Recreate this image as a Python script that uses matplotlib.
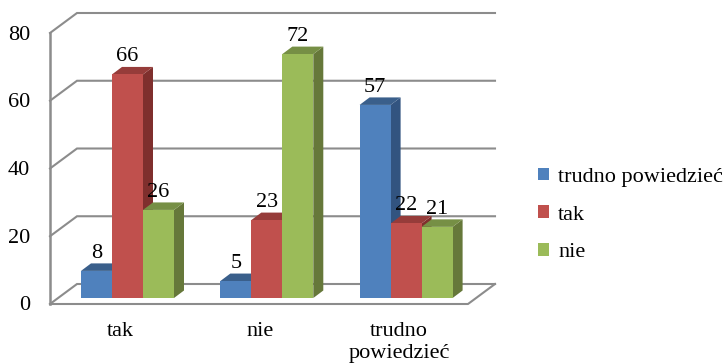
import matplotlib
matplotlib.use("Agg")
import matplotlib.pyplot as plt
from matplotlib.patches import Patch, Polygon

plt.rcParams['font.family'] = ['Liberation Serif', 'DejaVu Serif']

categories = ['tak', 'nie', 'trudno\npowiedzieć']
series = ['trudno powiedzieć', 'tak', 'nie']
trudno = [8, 5, 57]
tak = [66, 23, 22]
nie = [26, 72, 21]
ticks = [0, 20, 40, 60, 80]

front = ['#4F81BD', '#C0504D', '#9BBB59']
side = ['#325480', '#7F2F2D', '#66783A']
top = ['#3A5F8B', '#963C3A', '#768F45']
grid = '#8C8C8C'

# skala: 139.3 px na kategorie, 3.3875 px na jednostke
px_x = 139.3
px_y = 3.3875
def dx(p):
    return p / px_x
def dy(p):
    return p / px_y

fig = plt.figure(figsize=(7.26, 3.64), dpi=100)
ax = fig.add_axes([0, 0, 1, 1])
ax.set_xlim(dx(-127.5), dx(726 - 127.5))
ax.set_ylim(dy(-(364 - 304)), dy(304))
ax.axis('off')

x_left = dx(50 - 127.5)
x_right = dx(468 - 127.5)
wall_x = dx(27)
wall_y = dy(20)

# sciany i siatka
for t in ticks:
    ax.plot([x_left, x_left + wall_x, x_right + wall_x], [t, t + wall_y, t + wall_y],
            color=grid, lw=1.5, zorder=1, solid_joinstyle='miter')
    ax.text(x_left - dx(20), t - dy(2), str(t), ha='right', va='center', fontsize=16, color='black')
ax.plot([x_left, x_left], [0, 80], color=grid, lw=1.8, zorder=1)
ax.plot([x_left, x_right, x_right + wall_x], [0, 0, wall_y], color=grid, lw=1.5, zorder=1)

# slupki
bar_w = dx(31)
depth_x = dx(10)
depth_y = dy(7.5)
base = dy(6)
z = 2
for i, cat in enumerate(categories):
    for j, values in enumerate([trudno, tak, nie]):
        v = values[i]
        x0 = i + (j - 1.5) * bar_w
        x1 = x0 + bar_w
        y0 = base
        y1 = base + v
        ax.add_patch(Polygon([(x1, y0), (x1 + depth_x, y0 + depth_y), (x1 + depth_x, y1 + depth_y), (x1, y1)],
                             color=side[j], lw=0, zorder=z))
        ax.add_patch(Polygon([(x0, y1), (x1, y1), (x1 + depth_x, y1 + depth_y), (x0 + depth_x, y1 + depth_y)],
                             color=top[j], lw=0, zorder=z))
        ax.bar(x0, v, width=bar_w, bottom=y0, align='edge', color=front[j], lw=0, zorder=z)
        ax.text((x0 + x1) / 2, y1 + dy(17.5), str(v), ha='center', va='center', fontsize=16,
                color='black', zorder=10)
        z += 1
    ax.text(i - dx(7), dy(-18), cat, ha='center', va='top', fontsize=16, color='black', linespacing=1.2)

handles = [Patch(color=c, lw=0) for c in front]
ax.legend(handles, series, loc='center left', bbox_to_anchor=(538 / 726, 1 - 215 / 364),
          frameon=False, fontsize=16, handlelength=0.5, handleheight=0.5, handletextpad=0.4,
          labelspacing=0.83, borderpad=0, borderaxespad=0)

fig.savefig('out.png', dpi=100)
